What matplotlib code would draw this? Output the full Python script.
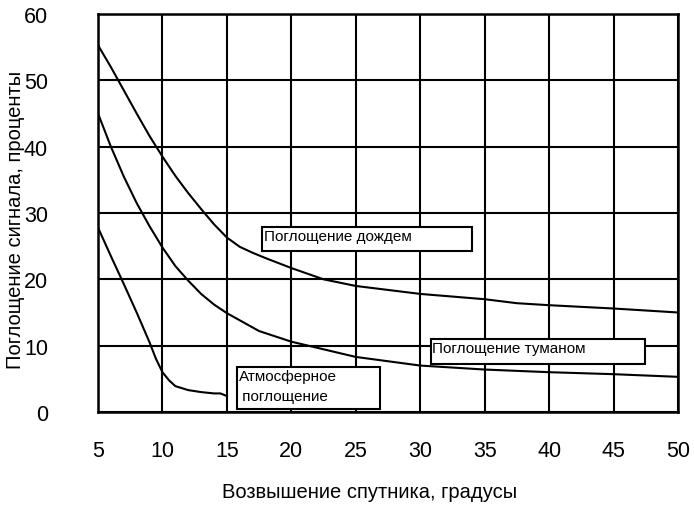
import matplotlib
matplotlib.use("Agg")
import matplotlib.pyplot as plt

plt.rcParams['font.family'] = ['Liberation Sans', 'DejaVu Sans']

# elevation angle, degrees
rain_x = [5, 6, 7, 8, 9, 10, 11, 12, 13, 14, 15, 16, 17, 18, 20, 22.5, 25, 30, 35, 37.5, 40, 45, 50]
rain_y = [55.3, 52.0, 48.5, 45.0, 41.6, 38.5, 35.6, 33.0, 30.6, 28.3, 26.3, 24.9, 24.0, 23.2, 21.7, 20.0, 19.0, 17.8, 17.0, 16.4, 16.1, 15.6, 15.0]

fog_x = [5, 6, 7, 8, 9, 10, 11, 12, 13, 14, 15, 17.5, 20, 25, 30, 35, 40, 45, 50]
fog_y = [45.0, 40.0, 35.5, 31.5, 28.0, 24.8, 22.0, 19.8, 17.8, 16.2, 14.9, 12.2, 10.6, 8.3, 7.0, 6.4, 6.0, 5.7, 5.3]

atm_x = [5, 6, 7, 8, 9, 9.5, 10, 10.5, 11, 12, 13, 14, 14.5, 15]
atm_y = [27.8, 23.5, 19.3, 15.0, 10.5, 8.0, 6.0, 4.8, 3.9, 3.3, 3.0, 2.8, 2.8, 2.4]

labels = ["Поглощение дождем", "Поглощение туманом", "Атмосферное\n поглощение"]

fig = plt.figure(figsize=(6.94, 5.06), dpi=100)
ax = fig.add_axes([0.1412, 0.1838, 0.8358, 0.7866])

for xs, ys in [(rain_x, rain_y), (fog_x, fog_y), (atm_x, atm_y)]:
    ax.plot(xs, ys, color='black', lw=1.5, zorder=3)

ax.set_xlim(5, 50)
ax.set_ylim(0, 60)
ax.set_xticks(range(5, 51, 5))
ax.set_yticks(range(0, 61, 10))
ax.grid(True, color='black', lw=1.5)
ax.tick_params(length=0, labelsize=15.5)
ax.tick_params(axis='x', pad=20)
ax.tick_params(axis='y', pad=36)
for s in ax.spines.values():
    s.set_linewidth(1.8)

ax.set_xlabel("Возвышение спутника, градусы", fontsize=14.5)
ax.set_ylabel("Поглощение сигнала, проценты", fontsize=14.5)
ax.xaxis.set_label_coords(0.469, -0.2, transform=ax.transAxes)
ax.yaxis.set_label_coords(-0.143, 0.485, transform=ax.transAxes)
ax.xaxis.label.set_va('center')
ax.yaxis.label.set_va('center')

# label boxes: (x0, y0, x1, y1) in data units
boxes = [(17.7, 24.3, 34.0, 27.9), (30.8, 7.3, 47.4, 11.0), (15.75, 0.45, 26.9, 6.8)]
for (x0, y0, x1, y1), txt in zip(boxes, labels):
    ax.add_patch(plt.Rectangle((x0, y0), x1 - x0, y1 - y0, facecolor='white',
                               edgecolor='black', lw=1.5, zorder=4))
    ax.text(x0 + 0.15, y1 - 0.35, txt, fontsize=11, va='top', ha='left',
            linespacing=1.55, zorder=5)

fig.savefig("out.png", dpi=100)
